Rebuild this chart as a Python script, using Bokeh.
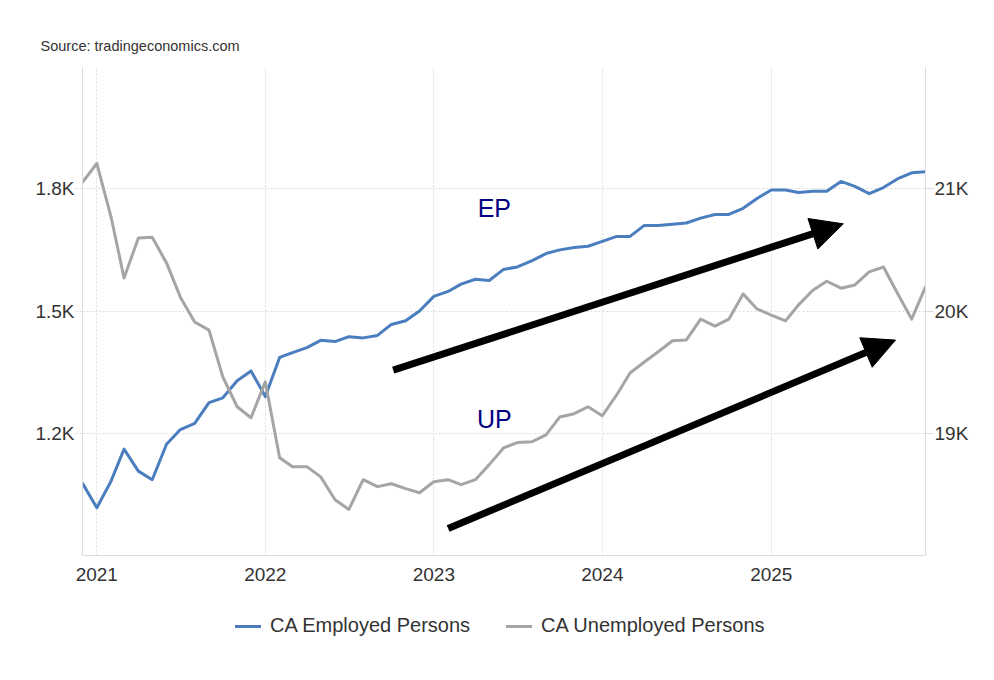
import pandas as pd
from bokeh.plotting import figure
from bokeh.layouts import column
from bokeh.models import (Range1d, LinearAxis, FixedTicker, CustomJSTickFormatter,
                          DatetimeTickFormatter, Arrow, NormalHead, Label, Legend,
                          LegendItem, ColumnDataSource)
from bokeh.embed import file_html
from bokeh.resources import INLINE

# ---- data (thousands of persons), monthly Dec 2020 .. Dec 2025 ----
months = pd.date_range("2020-12-01", "2025-12-01", freq="MS")

employed = [18590, 18390, 18610, 18870, 18690, 18620, 18910, 19030, 19080, 19250,
            19290, 19430, 19510, 19300, 19620, 19660, 19700, 19760, 19750, 19790,
            19780, 19800, 19890, 19920, 20000, 20120, 20160, 20220, 20260, 20250,
            20340, 20360, 20410, 20470, 20500, 20520, 20530, 20570, 20610, 20610,
            20700, 20700, 20710, 20720, 20760, 20790, 20790, 20840, 20920, 20990,
            20990, 20970, 20980, 20980, 21060, 21020, 20960, 21010, 21080, 21130,
            21140]

unemployed = [1816, 1862, 1730, 1581, 1679, 1681, 1618, 1534, 1473, 1453,
              1338, 1265, 1238, 1326, 1140, 1118, 1118, 1093, 1037, 1013,
              1086, 1069, 1076, 1064, 1054, 1081, 1086, 1074, 1086, 1123,
              1164, 1177, 1179, 1196, 1240, 1248, 1265, 1243, 1294, 1348,
              1375, 1400, 1427, 1429, 1480, 1463, 1480, 1542, 1505, 1490,
              1476, 1515, 1551, 1573, 1556, 1564, 1596, 1608, 1544, 1480,
              1559]

year_ticks = ["2021-01-01", "2022-01-01", "2023-01-01", "2024-01-01", "2025-01-01"]
left_ticks = [1200, 1500, 1800]
right_ticks = [19000, 20000, 21000]
left_grid = [1200, 1500, 1800, 2100]

series_names = ["CA Employed Persons", "CA Unemployed Persons"]

# annotations (trend arrows and labels) in data coordinates
arrow_ep = dict(start=("2022-10-05", 19516), end=("2025-06-06", 20713))
arrow_up = dict(start=("2023-02-01", 18221), end=("2025-09-27", 19762))
label_ep = ("EP", "2023-05-12", 20844)
label_up = ("UP", "2023-05-12", 19120)


def ms(d):
    return pd.Timestamp(d).timestamp() * 1000.0


FONT = "Liberation Sans"
TXT = "#333333"
GRID = "#dcdcdc"
BLUE = "#4a7ebf"
GRAY = "#a5a5a5"

src = ColumnDataSource(dict(date=months, emp=employed, unemp=unemployed))

p = figure(x_axis_type="datetime",
           frame_width=843, frame_height=489,
           min_border_left=82, min_border_right=63,
           min_border_top=66, min_border_bottom=40,
           x_range=Range1d(months[0], months[-1]),
           y_range=Range1d(900, 2100),
           output_backend="svg", toolbar_location=None)

p.extra_y_ranges = {"emp": Range1d(18000, 22000)}

p.outline_line_color = None
p.background_fill_color = "white"
p.border_fill_color = "white"

# title / source
p.title.text = "Source: tradingeconomics.com"
p.title.text_font = FONT
p.title.text_font_size = "14.5px"
p.title.text_font_style = "normal"
p.title.text_color = TXT
p.title.align = "left"
p.title.offset = -42
p.title.standoff = 25

# x axis
xt = FixedTicker(ticks=[ms(d) for d in year_ticks])
xax = p.xaxis[0]
xax.ticker = xt
xax.formatter = DatetimeTickFormatter(years="%Y", months="%Y", days="%Y")
xax.major_tick_out = 0
xax.major_tick_in = 0
xax.minor_tick_out = 0
xax.minor_tick_in = 0
xax.major_label_standoff = 12
xax.axis_line_color = GRID
xax.major_label_text_font = FONT
xax.major_label_text_font_size = "19px"
xax.major_label_text_color = TXT

# left axis (unemployed)
lax = p.yaxis[0]
lax.ticker = FixedTicker(ticks=left_ticks)
lax.formatter = CustomJSTickFormatter(code="return (tick/1000).toFixed(1) + 'K';")
lax.major_tick_out = 7
lax.major_tick_in = 0
lax.minor_tick_out = 0
lax.minor_tick_in = 0
lax.major_tick_line_color = GRID
lax.major_tick_line_dash = "2 2"
lax.major_label_standoff = 1
lax.axis_line_color = GRID
lax.major_label_text_font = FONT
lax.major_label_text_font_size = "19px"
lax.major_label_text_color = TXT

# right axis (employed)
rax = LinearAxis(y_range_name="emp",
                 ticker=FixedTicker(ticks=right_ticks),
                 formatter=CustomJSTickFormatter(code="return (tick/1000).toFixed(0) + 'K';"))
rax.major_tick_out = 8
rax.major_tick_in = 0
rax.minor_tick_out = 0
rax.minor_tick_in = 0
rax.major_tick_line_color = GRID
rax.major_label_standoff = 1
rax.axis_line_color = GRID
rax.major_label_text_font = FONT
rax.major_label_text_font_size = "19px"
rax.major_label_text_color = TXT
p.add_layout(rax, "right")

# grids
p.xgrid.ticker = xt
p.ygrid.ticker = FixedTicker(ticks=left_grid)
for g in (p.xgrid[0], p.ygrid[0]):
    g.grid_line_color = GRID
    g.grid_line_dash = "2 2"
    g.grid_line_width = 1

# lines
line_kw = dict(line_width=3, line_join="round", line_cap="round")
p.line("date", "emp", source=src, y_range_name="emp", line_color=BLUE, **line_kw)
p.line("date", "unemp", source=src, line_color=GRAY, **line_kw)

# arrows
for a in (arrow_ep, arrow_up):
    p.add_layout(Arrow(end=NormalHead(size=32, fill_color="black", line_color="black"),
                       x_start=ms(a["start"][0]), y_start=a["start"][1],
                       x_end=ms(a["end"][0]), y_end=a["end"][1],
                       line_width=7, line_color="black", y_range_name="emp"))

# EP / UP labels
for txt, d, yv in (label_ep, label_up):
    p.add_layout(Label(x=ms(d), y=yv, text=txt, y_range_name="emp",
                       text_font=FONT, text_font_size="25px", text_color="#000080",
                       text_align="center", text_baseline="alphabetic"))

# ---- legend strip under the chart ----
leg = figure(frame_width=988, frame_height=60,
             min_border_left=0, min_border_right=0, min_border_top=0, min_border_bottom=0,
             x_axis_type="datetime",
             x_range=Range1d(months[0], months[-1]), y_range=Range1d(0, 1),
             x_axis_location=None, y_axis_location=None,
             output_backend="svg", toolbar_location=None)
leg.outline_line_color = None
leg.xgrid.visible = False
leg.ygrid.visible = False
# same series, kept outside this strip's visible y range: only their legend swatches show
r_emp = leg.line("date", "emp", source=src, line_color=BLUE, **line_kw)
r_unemp = leg.line("date", "unemp", source=src, line_color=GRAY, **line_kw)

legend = Legend(items=[LegendItem(label=series_names[0], renderers=[r_emp]),
                       LegendItem(label=series_names[1], renderers=[r_unemp])],
                orientation="horizontal", location=(235, 18))
legend.border_line_alpha = 0
legend.background_fill_alpha = 0
legend.label_text_font = FONT
legend.label_text_font_size = "20px"
legend.label_text_color = TXT
legend.glyph_width = 26
legend.glyph_height = 20
legend.label_standoff = 9
legend.spacing = 36
legend.padding = 0
legend.margin = 0
leg.add_layout(legend, "center")

layout = column(p, leg, spacing=0)

open("out.html", "w").write(file_html(layout, INLINE))
